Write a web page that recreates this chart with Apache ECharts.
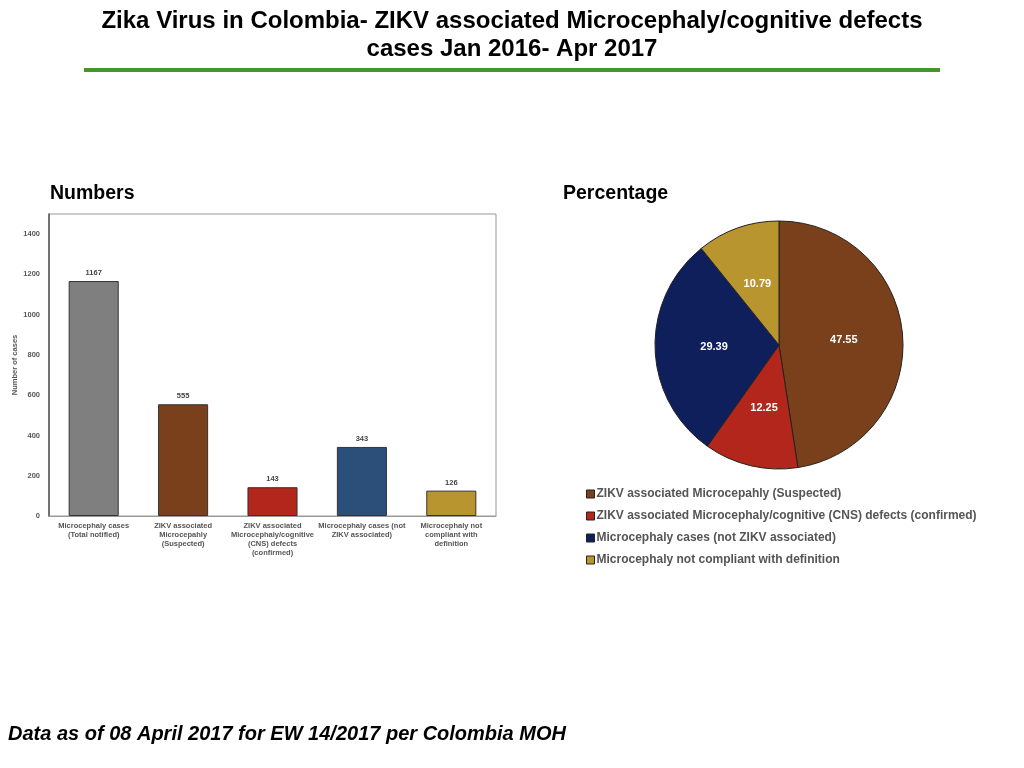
<!DOCTYPE html>
<html>
<head>
<meta charset="utf-8">
<script src="https://cdn.jsdelivr.net/npm/echarts@6/dist/echarts.min.js"></script>
<style>
  html, body { margin: 0; padding: 0; background: #fff; }
  #chart { width: 1024px; height: 768px; }
</style>
</head>
<body>
<div id="chart"></div>
<script>
// data
const barCategories = [
  'Microcephaly cases\n(Total notified)',
  'ZIKV associated\nMicrocepahly\n(Suspected)',
  'ZIKV associated\nMicrocephaly/cognitive\n(CNS) defects\n(confirmed)',
  'Microcephaly cases (not\nZIKV associated)',
  'Microcephaly not\ncompliant with\ndefinition'
]
const barValues = [1167, 555, 143, 343, 126]
const barColors = ['#7f7f7f', '#7a3f1b', '#b2261b', '#2c4f7a', '#b9952f']

const pieNames = [
  'ZIKV associated Microcepahly (Suspected)',
  'ZIKV associated Microcephaly/cognitive (CNS) defects (confirmed)',
  'Microcephaly cases (not ZIKV associated)',
  'Microcephaly not compliant with definition'
]
const pieValues = [47.55, 12.25, 29.39, 10.79]
const pieColors = ['#7a3f1b', '#b2261b', '#0e1f5b', '#b9952f']

const el = document.getElementById('chart')
const chart = echarts.init(el)

const baseFont = 'Liberation Sans, Arial, Helvetica, sans-serif'

const options = {
  backgroundColor: '#fff',
  animation: false,
  textStyle: { fontFamily: baseFont },
  title: [
    {
      text: 'Zika Virus in Colombia- ZIKV associated Microcephaly/cognitive defects\ncases Jan 2016- Apr 2017',
      left: 'center',
      top: 2,
      textStyle: { fontSize: 24, fontWeight: 'bold', color: '#000', lineHeight: 28, align: 'center' }
    },
    {
      text: 'Numbers',
      left: 45,
      top: 179,
      textStyle: { fontSize: 19.5, fontWeight: 'bold', color: '#000' }
    },
    {
      text: 'Percentage',
      left: 558,
      top: 179,
      textStyle: { fontSize: 19.5, fontWeight: 'bold', color: '#000' }
    },
    {
      text: 'Data as of 08 April 2017 for EW 14/2017 per Colombia MOH',
      left: 3,
      top: 719,
      textStyle: { fontSize: 20, fontWeight: 'bold', fontStyle: 'italic', color: '#000' }
    }
  ],
  graphic: [
    {
      type: 'rect',
      shape: { x: 84, y: 68, width: 856, height: 4 },
      style: { fill: '#43962f' }
    }
  ],
  grid: {
    left: 49, top: 214, width: 447, height: 302,
    show: true, borderColor: '#999', borderWidth: 1,
    containLabel: false
  },
  xAxis: {
    type: 'category',
    data: barCategories,
    axisLine: { lineStyle: { color: '#999', width: 1 } },
    axisTick: { show: false },
    axisLabel: {
      interval: 0, fontSize: 7.5, fontWeight: 'bold', color: '#555',
      lineHeight: 9, margin: 5
    }
  },
  yAxis: {
    type: 'value',
    min: 0, max: 1500, interval: 200,
    name: 'Number of cases',
    nameLocation: 'middle',
    nameGap: 18,
    nameTextStyle: { fontSize: 7.5, fontWeight: 'bold', color: '#555' },
    axisLine: { show: true, lineStyle: { color: '#555', width: 1.5 } },
    axisTick: { show: false },
    splitLine: { show: false },
    axisLabel: {
      fontSize: 7.5, fontWeight: 'bold', color: '#555', margin: 9, showMaxLabel: false,
      formatter: (v) => String(v)
    }
  },
  legend: {
    orient: 'vertical',
    left: 581,
    top: 483,
    itemWidth: 8,
    itemHeight: 8,
    itemGap: 10,
    icon: 'rect',
    data: pieNames,
    itemStyle: { borderColor: '#222', borderWidth: 1 },
    textStyle: { fontSize: 12, fontWeight: 'bold', color: '#555', padding: [0, 0, 0, -3] }
  },
  series: [
    {
      type: 'bar',
      data: barValues.map((v, i) => ({ value: v, itemStyle: { color: barColors[i] } })),
      barWidth: '56%',
      itemStyle: { borderColor: '#333', borderWidth: 1 },
      label: {
        show: true, position: 'top', distance: 4,
        fontSize: 7.5, fontWeight: 'bold', color: '#444'
      }
    },
    {
      type: 'pie',
      center: [779, 345],
      radius: 124,
      startAngle: 90,
      clockwise: true,
      data: pieNames.map((n, i) => ({ name: n, value: pieValues[i], itemStyle: { color: pieColors[i] } })),
      itemStyle: { borderColor: '#222', borderWidth: 1 },
      label: {
        show: true, position: 'inner',
        formatter: (p) => p.value.toFixed(2),
        fontSize: 11, fontWeight: 'bold', color: '#fff'
      },
      labelLine: { show: false },
      emphasis: { disabled: true }
    }
  ]
}

chart.setOption(options)
window.addEventListener('resize', () => {
  chart.resize()
})
</script>
</body>
</html>
